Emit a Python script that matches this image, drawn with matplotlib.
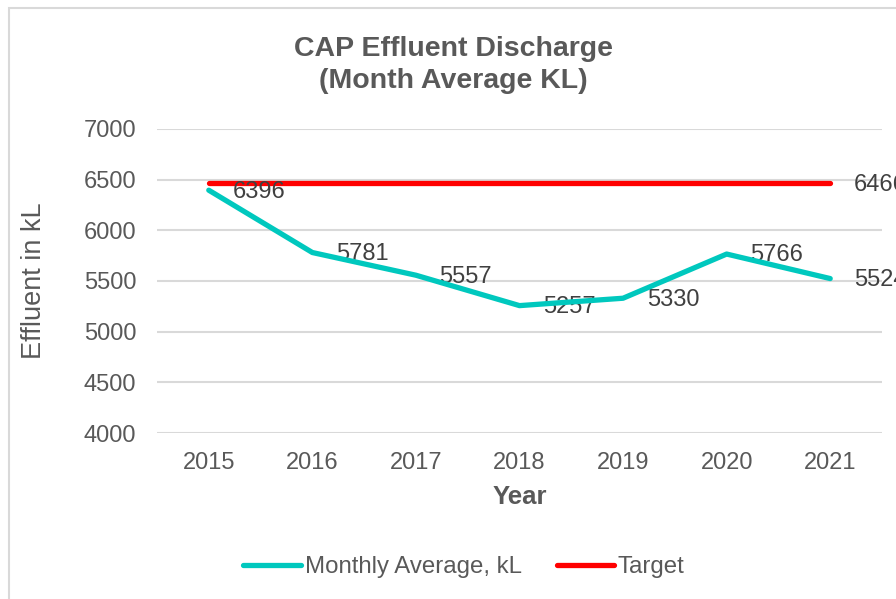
import matplotlib
matplotlib.use("Agg")
import matplotlib.pyplot as plt
from matplotlib.patches import Rectangle

plt.rcParams['font.family'] = ['Liberation Sans', 'DejaVu Sans']

# data
years = ['2015', '2016', '2017', '2018', '2019', '2020', '2021']
monthly_avg = [6396, 5781, 5557, 5257, 5330, 5766, 5524]
target = [6466, 6466, 6466, 6466, 6466, 6466, 6466]

txt = '#595959'
teal = '#00C8BE'
red = '#FF0000'
grid = '#D9D9D9'

fig = plt.figure(figsize=(8.96, 5.99), dpi=100)

# chart border (runs off the right/bottom like the screenshot)
fig.patches.append(Rectangle((9/896, -0.05), 1.2, 1 - 8/599 + 0.05, transform=fig.transFigure,
                             fill=False, edgecolor=grid, linewidth=1.5))

ax = fig.add_axes([157/896, 166/599, 725/896, 304/599])
x = list(range(len(years)))

ax.plot(x, target, color=red, linewidth=3.8, solid_capstyle='round', label='Target', zorder=3)
ax.plot(x, monthly_avg, color=teal, linewidth=3.8, solid_capstyle='round',
        label='Monthly Average, kL', zorder=4)

for xi, v in zip(x, monthly_avg):
    ax.annotate(str(v), (xi, v), xytext=(17, -1), textcoords='offset points',
                ha='left', va='center', fontsize=17, color='#404040', annotation_clip=False)
ax.annotate(str(target[-1]), (x[-1], target[-1]), xytext=(17, -1), textcoords='offset points',
            ha='left', va='center', fontsize=17, color='#404040', annotation_clip=False)

ax.set_xlim(-0.5, 6.5)
ax.set_ylim(4000, 7000)
ax.set_yticks(range(4000, 7001, 500))
ax.set_xticks(x)
ax.set_xticklabels(years)
ax.tick_params(axis='both', length=0, labelsize=17, labelcolor=txt)
ax.tick_params(axis='y', pad=15)
ax.tick_params(axis='x', pad=14)
ax.grid(axis='y', color=grid, linewidth=1.5)
ax.set_axisbelow(True)
for s in ax.spines.values():
    s.set_visible(False)

fig.text(34/896, 1 - 281/599, 'Effluent in kL', rotation=90, ha='center', va='center',
         fontsize=19.5, color=txt)
fig.text(520/896, 1 - 497/599, 'Year', ha='center', va='center', fontsize=18.5,
         fontweight='bold', color=txt)
fig.text(453/896, 1 - 65/599, 'CAP Effluent Discharge\n(Month Average KL)', ha='center',
         va='center', fontsize=20.5, fontweight='bold', color=txt, linespacing=1.3)

h, l = ax.get_legend_handles_labels()
fig.legend([h[1], h[0]], [l[1], l[0]], loc='center', bbox_to_anchor=(464/896, 1 - 567/599),
           ncol=2, frameon=False, fontsize=17.3, labelcolor=txt, handlelength=2.4,
           handletextpad=0.15, columnspacing=1.45)

fig.savefig('out.png', dpi=100)
